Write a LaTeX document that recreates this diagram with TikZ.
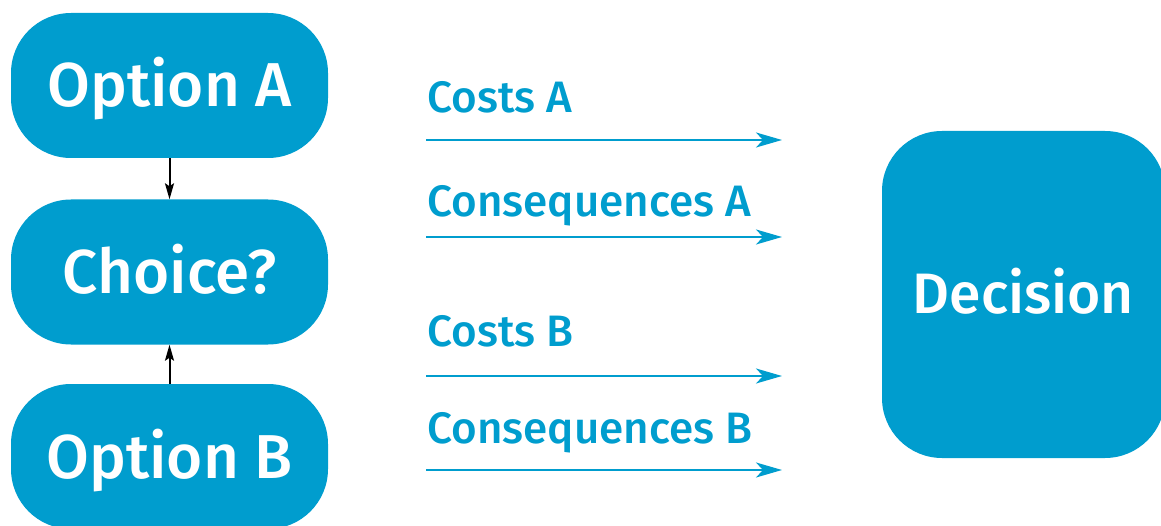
\documentclass[tikz,border=0pt]{standalone}
\usepackage{fontspec}
\setmainfont{Fira Sans}[UprightFont={* Medium},BoldFont={* SemiBold}]
\usetikzlibrary{arrows.meta}
\definecolor{cblue}{RGB}{0,157,206}
\begin{document}
\begin{tikzpicture}[x=1pt,y=-1pt,
  box/.style={fill=cblue,draw=none,rounded corners=60pt,text=white,inner sep=0pt,
    minimum width=317pt,minimum height=145pt,font=\fontsize{62}{62}\selectfont,
    text height=43pt,text depth=0pt},
  lbl/.style={text=cblue,inner sep=0pt,anchor=base west,font=\fontsize{44}{44}\selectfont},
  barrow/.style={draw=cblue,line width=2pt,-{Stealth[length=26pt,width=15pt,inset=7pt]}},
  karrow/.style={draw=black,line width=2pt,-{Stealth[length=16pt,width=9pt,inset=3pt]}}]
\useasboundingbox (0,0) rectangle (1161,526);
\clip (0,0) rectangle (1161,526);
\node[box] (optA) at (169.5,85.5) {Option A};
\node[box] (choice) at (169.5,272) {Choice?};
\node[box] (optB) at (169.5,456.5) {Option B};
\node[box,minimum width=283pt,minimum height=327pt,font=\fontsize{57}{57}\selectfont,text height=39pt] (dec) at (1023.5,294.5) {Decision};
\draw[karrow] (optA.south) -- (choice.north);
\draw[karrow] (optB.north) -- (choice.south);
\node[lbl] (lca) at (427,113) {Costs A};
\node[lbl] (lqa) at (427,217) {Consequences A};
\node[lbl] (lcb) at (427,346) {Costs B};
\node[lbl] (lqb) at (427,443) {Consequences B};
\coordinate (s1) at (426,140); \coordinate (e1) at (782,140);
\coordinate (s2) at (426,237); \coordinate (e2) at (782,237);
\coordinate (s3) at (426,376); \coordinate (e3) at (782,376);
\coordinate (s4) at (426,470); \coordinate (e4) at (782,470);
\draw[barrow] (s1) -- (e1);
\draw[barrow] (s2) -- (e2);
\draw[barrow] (s3) -- (e3);
\draw[barrow] (s4) -- (e4);
\end{tikzpicture}
\end{document}
